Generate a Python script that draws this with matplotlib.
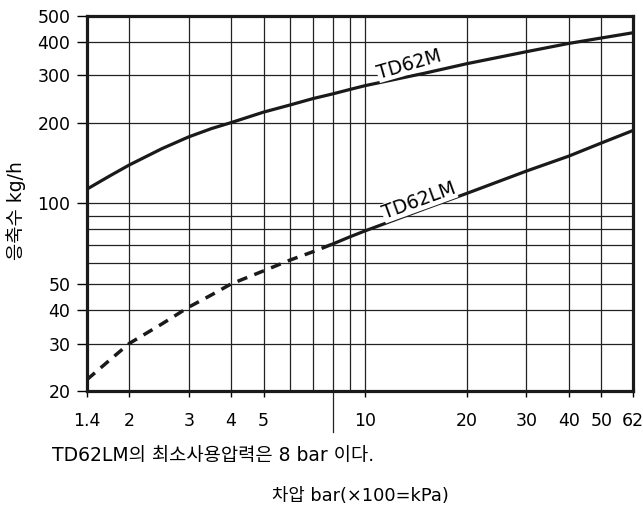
import matplotlib
matplotlib.use("Agg")
import matplotlib.pyplot as plt

plt.rcParams['font.family'] = ['DejaVu Sans', 'Noto Sans CJK KR']

# 차압 (bar) / 응축수 (kg/h)
td62m_x = [1.5, 1.75, 2, 2.5, 3, 3.5, 4, 5, 6, 7, 8, 9, 10, 15, 20, 30, 40, 50, 62]
td62m_y = [113, 126.5, 139, 160, 177, 190, 200, 219, 233, 246, 256, 266, 275, 306, 332, 368, 395, 414, 433]

# TD62LM: 8 bar 미만은 점선
td62lm_dash_x = [1.5, 1.75, 2, 2.5, 3, 3.5, 4, 5, 6, 7, 8]
td62lm_dash_y = [22, 26, 30, 35.5, 41, 45.5, 50, 56, 61.5, 66, 70.5]
td62lm_x = [8, 9, 10, 15, 20, 30, 40, 50, 62]
td62lm_y = [70.5, 75, 79, 95.5, 109, 132, 150, 168, 187]

x_ticks = [1.5, 2, 3, 4, 5, 10, 20, 30, 40, 50, 62]
x_tick_labels = ['1.4', '2', '3', '4', '5', '10', '20', '30', '40', '50', '62']
y_ticks = [20, 30, 40, 50, 100, 200, 300, 400, 500]
x_grid = [2, 3, 4, 5, 6, 7, 8, 9, 10, 20, 30, 40, 50]
y_grid = [30, 40, 50, 60, 70, 80, 90, 100, 200, 300, 400]

fig = plt.figure(figsize=(6.43, 5.08), dpi=100)
ax = fig.add_axes([87/643, 117.3/508, 546/643, 374.7/508])
ax.set_xscale('log')
ax.set_yscale('log')
ax.set_xlim(1.5, 62)
ax.set_ylim(20, 500)

for gx in x_grid:
    ax.axvline(gx, color='#222222', lw=0.9, zorder=1)
for gy in y_grid:
    ax.axhline(gy, color='#222222', lw=0.9, zorder=1)

# 8 bar 선은 축 아래로 연장
ax.plot([8, 8], [0, -0.11], color='#222222', lw=0.9,
        transform=ax.get_xaxis_transform(), clip_on=False)

ax.plot(td62m_x, td62m_y, color='#1a1a1a', lw=2.3, zorder=3)
ax.plot(td62lm_dash_x, td62lm_dash_y, color='#1a1a1a', lw=2.5, zorder=3,
        dashes=(3.0, 2.2))
ax.plot(td62lm_x, td62lm_y, color='#1a1a1a', lw=2.3, zorder=3)

ax.text(13.5, 330, 'TD62M', fontsize=13.5, rotation=16, ha='center', va='center',
        zorder=4, bbox=dict(fc='white', ec='none', pad=0.3))
ax.text(14.4, 102, 'TD62LM', fontsize=13.5, rotation=20, ha='center', va='center',
        zorder=4, bbox=dict(fc='white', ec='none', pad=0.3))

ax.minorticks_off()
ax.set_xticks(x_ticks)
ax.set_xticklabels(x_tick_labels)
ax.set_yticks(y_ticks)
ax.set_yticklabels([str(v) for v in y_ticks])
ax.tick_params(axis='x', direction='out', length=4, width=1, pad=11, labelsize=12.5)
ax.tick_params(axis='y', direction='out', length=7, width=1, pad=5, labelsize=12.5)

for s in ax.spines.values():
    s.set_linewidth(2.3)
    s.set_color('#1a1a1a')
    s.set_zorder(5)

fig.text(16/643, 1 - 211/508, '응축수 kg/h', fontsize=13.5, rotation=90,
         ha='center', va='center')
fig.text(52/643, 1 - 455/508, 'TD62LM의 최소사용압력은 8 bar 이다.', fontsize=13.5,
         ha='left', va='center')
fig.text(360/643, 1 - 496/508, '차압 bar(×100=kPa)', fontsize=12.8,
         ha='center', va='center')

fig.savefig('out.png', dpi=100)
